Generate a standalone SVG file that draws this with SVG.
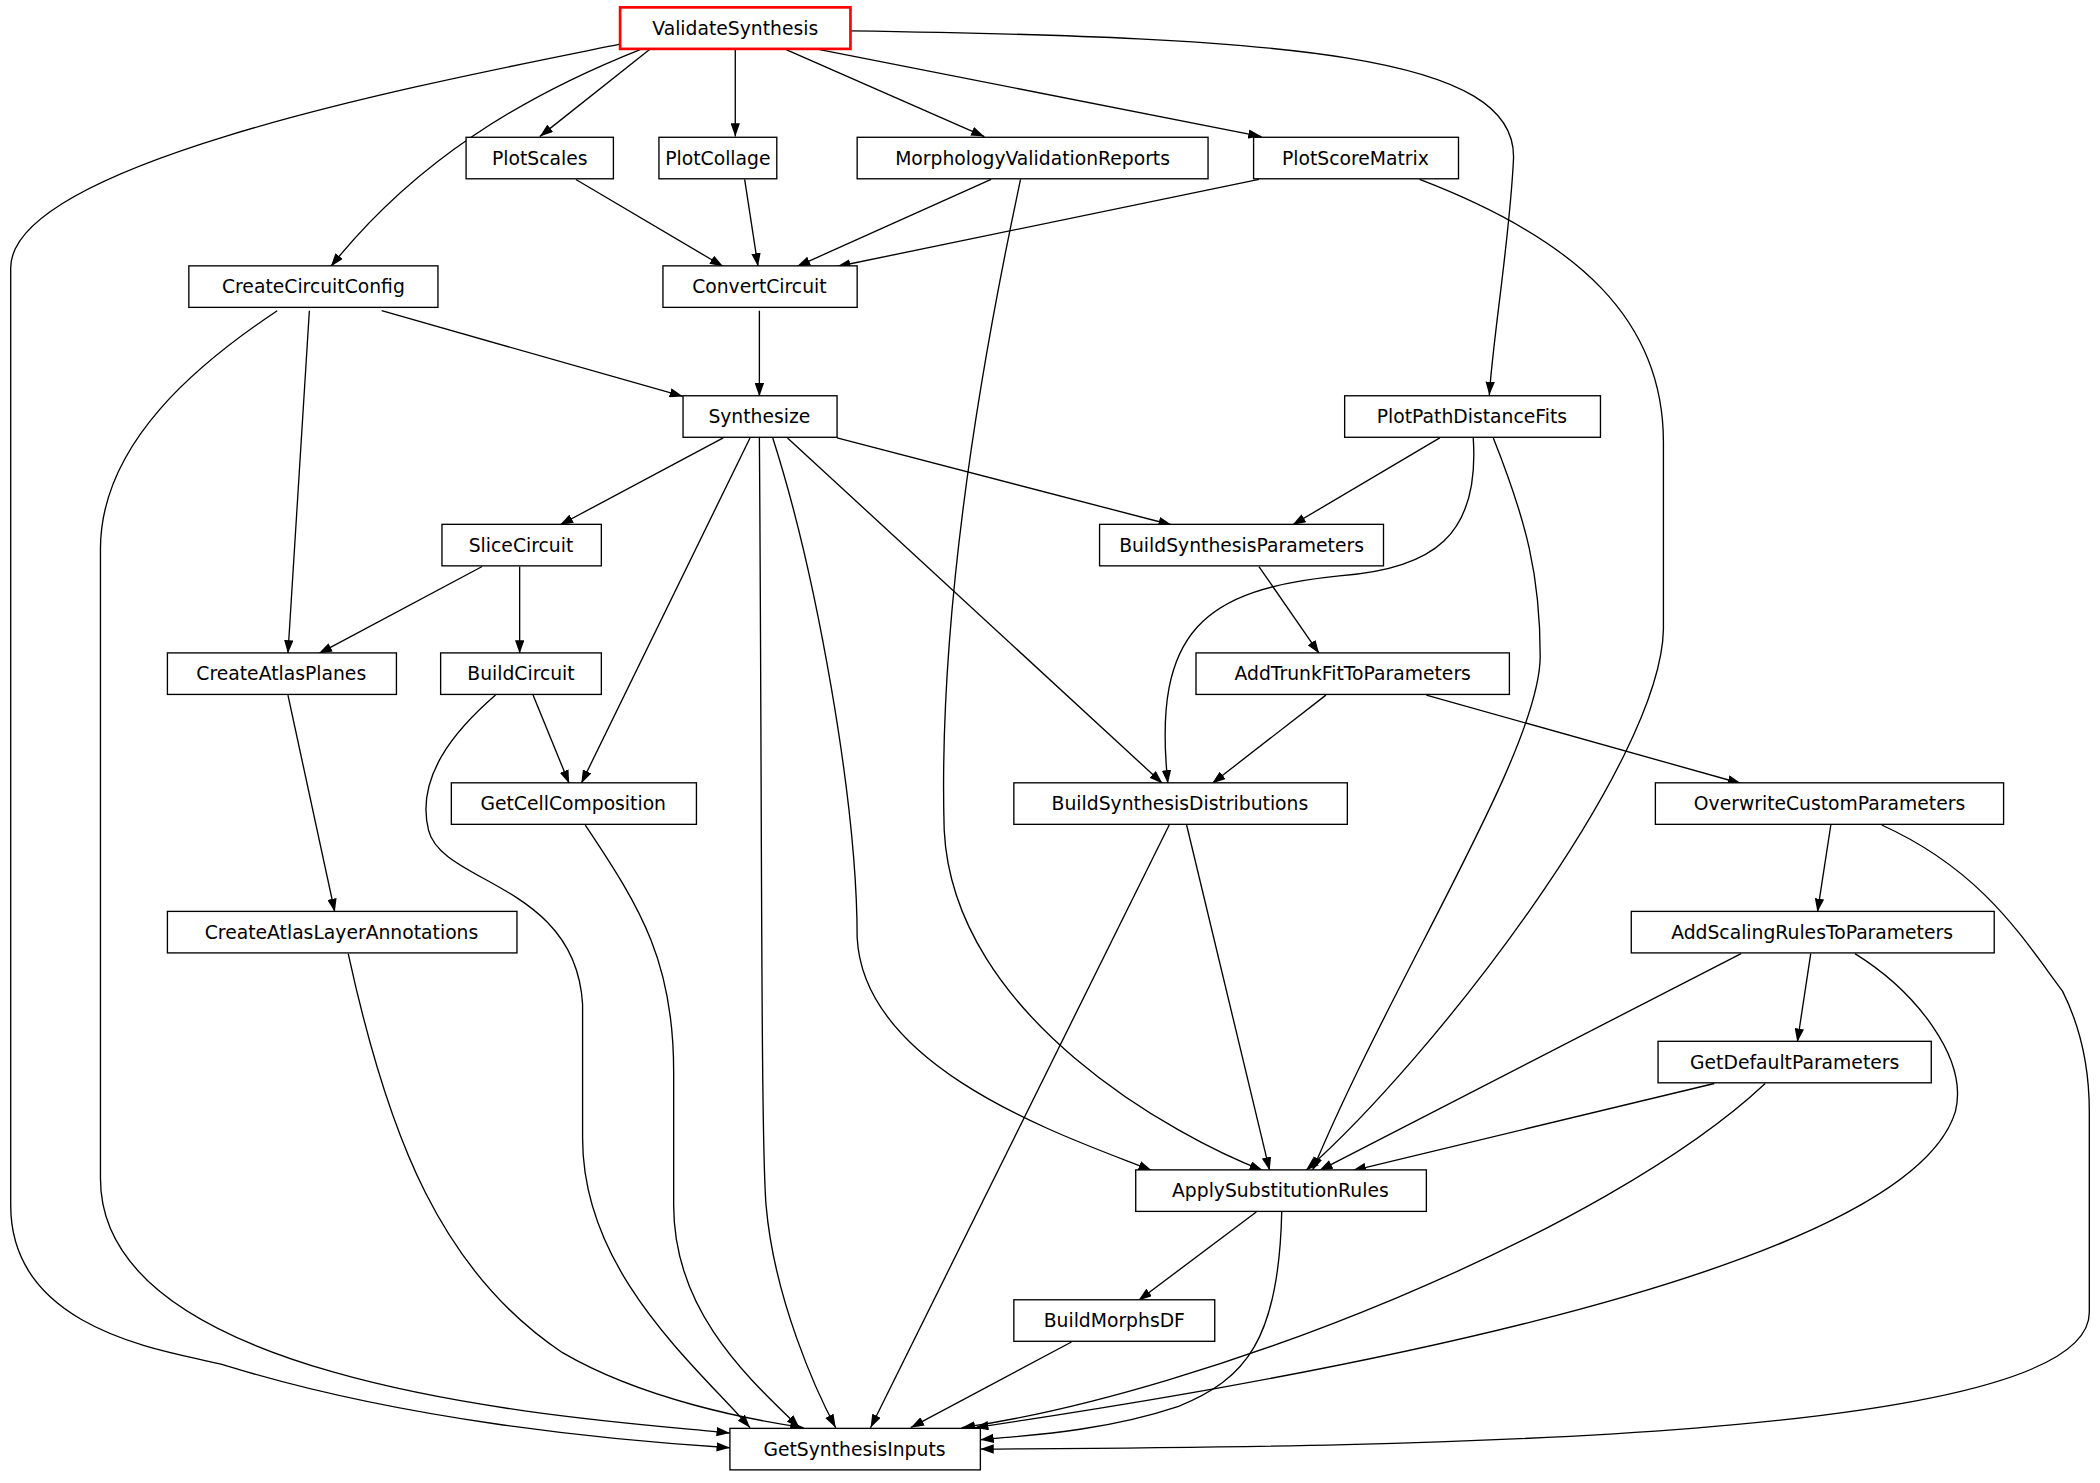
<svg xmlns="http://www.w3.org/2000/svg" width="2100" height="1483" viewBox="0 0 2100 1483">
<style>
.n rect{fill:#fff;stroke:#000;stroke-width:1}
.n text{font-family:"DejaVu Sans",sans-serif;font-size:14px;text-anchor:middle}
#edges path{fill:none;stroke:#000;stroke-width:1;marker-end:url(#a)}
</style>
<defs><marker id="a" viewBox="0 0 10 7" refX="10" refY="3.5" markerWidth="10" markerHeight="7" orient="auto" markerUnits="userSpaceOnUse"><path d="M0,0L10,3.5L0,7z" fill="#000"/></marker></defs>
<rect width="2100" height="1483" fill="#fff"/>
<g transform="scale(1.3393)">
<g id="edges">
<path d="M485,37L403,102"/>
<path d="M549,37L549,102"/>
<path d="M587,37L735,102"/>
<path d="M612,37L942,102"/>
<path d="M478,37C390,72 310,120 247,199"/>
<path d="M463,33C330,60 8,120 8,200L8,900C8,1000 140,1010 170,1020C300,1060 450,1075 545,1081"/>
<path d="M635,23C960,28 1135,40 1130,120C1127,180 1115,250 1112,295"/>
<path d="M430,134L540,199"/>
<path d="M556,134L566,199"/>
<path d="M740,134L595,199"/>
<path d="M940,134L625,199"/>
<path d="M762,134C735,260 700,450 705,620C712,760 880,850 943,874"/>
<path d="M1060,134C1180,180 1242,240 1242,330L1242,470C1240,570 1070,790 975,874"/>
<path d="M285,232L510,296"/>
<path d="M231,232L215,488"/>
<path d="M207,232C150,270 75,330 75,410L75,880C75,1040 450,1060 545,1070"/>
<path d="M567,232L567,296"/>
<path d="M540,327L418,392"/>
<path d="M560,327L434,585"/>
<path d="M567,327C569,600 568,850 572,900C578,970 610,1040 624,1066"/>
<path d="M577,327C610,430 640,600 640,700C645,800 800,850 860,874"/>
<path d="M588,327L868,585"/>
<path d="M625,327L875,392"/>
<path d="M1075,327L965,392"/>
<path d="M1100,327C1105,400 1070,425 1000,430C900,440 860,470 872,585"/>
<path d="M1115,327C1140,390 1150,430 1150,490C1150,560 1040,730 980,874"/>
<path d="M360,423L238,488"/>
<path d="M388,423L388,488"/>
<path d="M940,423L985,488"/>
<path d="M215,519L250,681"/>
<path d="M398,519L425,585"/>
<path d="M370,519C340,545 310,580 320,620C330,660 430,660 435,750L435,850C435,950 520,1020 560,1066"/>
<path d="M990,519L905,585"/>
<path d="M1065,519L1300,585"/>
<path d="M437,616C480,680 503,720 503,800L503,900C503,980 560,1030 597,1066"/>
<path d="M873,616L650,1066"/>
<path d="M886,616L948,874"/>
<path d="M1367,616L1357,681"/>
<path d="M1405,616C1480,650 1510,700 1540,740C1555,770 1560,800 1560,830L1560,980C1560,1080 1000,1080 732,1082"/>
<path d="M1300,712L985,874"/>
<path d="M1352,712L1342,778"/>
<path d="M1385,712C1430,740 1470,790 1460,830C1420,960 900,1040 728,1066"/>
<path d="M1280,809L1010,874"/>
<path d="M1318,809C1200,920 900,1040 718,1066"/>
<path d="M938,905L850,971"/>
<path d="M957,905C955,1000 930,1030 880,1050C820,1070 760,1072 732,1075"/>
<path d="M800,1002L680,1066"/>
<path d="M260,712C290,850 330,950 420,1010C480,1045 560,1060 600,1066"/>
</g>
<g id="ValidateSynthesis" class="n"><rect x="463" y="5.5" width="172" height="31" style="stroke:#f00;stroke-width:2"/><text x="549" y="26">ValidateSynthesis</text></g>
<g id="PlotScales" class="n"><rect x="348" y="102.5" width="110" height="31"/><text x="403" y="123">PlotScales</text></g>
<g id="PlotCollage" class="n"><rect x="492" y="102.5" width="88" height="31"/><text x="536" y="123">PlotCollage</text></g>
<g id="MorphologyValidationReports" class="n"><rect x="640" y="102.5" width="262" height="31"/><text x="771" y="123">MorphologyValidationReports</text></g>
<g id="PlotScoreMatrix" class="n"><rect x="936" y="102.5" width="153" height="31"/><text x="1012" y="123">PlotScoreMatrix</text></g>
<g id="CreateCircuitConfig" class="n"><rect x="141" y="198.5" width="186" height="31"/><text x="234" y="219">CreateCircuitConfig</text></g>
<g id="ConvertCircuit" class="n"><rect x="495" y="198.5" width="145" height="31"/><text x="567" y="219">ConvertCircuit</text></g>
<g id="Synthesize" class="n"><rect x="510" y="295.5" width="115" height="31"/><text x="567" y="316">Synthesize</text></g>
<g id="PlotPathDistanceFits" class="n"><rect x="1004" y="295.5" width="191" height="31"/><text x="1099" y="316">PlotPathDistanceFits</text></g>
<g id="SliceCircuit" class="n"><rect x="330" y="391.5" width="119" height="31"/><text x="389" y="412">SliceCircuit</text></g>
<g id="BuildSynthesisParameters" class="n"><rect x="821" y="391.5" width="212" height="31"/><text x="927" y="412">BuildSynthesisParameters</text></g>
<g id="CreateAtlasPlanes" class="n"><rect x="125" y="487.5" width="171" height="31"/><text x="210" y="508">CreateAtlasPlanes</text></g>
<g id="BuildCircuit" class="n"><rect x="329" y="487.5" width="120" height="31"/><text x="389" y="508">BuildCircuit</text></g>
<g id="AddTrunkFitToParameters" class="n"><rect x="893" y="487.5" width="234" height="31"/><text x="1010" y="508">AddTrunkFitToParameters</text></g>
<g id="GetCellComposition" class="n"><rect x="337" y="584.5" width="183" height="31"/><text x="428" y="605">GetCellComposition</text></g>
<g id="BuildSynthesisDistributions" class="n"><rect x="757" y="584.5" width="249" height="31"/><text x="881" y="605">BuildSynthesisDistributions</text></g>
<g id="OverwriteCustomParameters" class="n"><rect x="1236" y="584.5" width="260" height="31"/><text x="1366" y="605">OverwriteCustomParameters</text></g>
<g id="CreateAtlasLayerAnnotations" class="n"><rect x="125" y="680.5" width="261" height="31"/><text x="255" y="701">CreateAtlasLayerAnnotations</text></g>
<g id="AddScalingRulesToParameters" class="n"><rect x="1218" y="680.5" width="271" height="31"/><text x="1353" y="701">AddScalingRulesToParameters</text></g>
<g id="GetDefaultParameters" class="n"><rect x="1238" y="777.5" width="204" height="31"/><text x="1340" y="798">GetDefaultParameters</text></g>
<g id="ApplySubstitutionRules" class="n"><rect x="848" y="873.5" width="217" height="31"/><text x="956" y="894">ApplySubstitutionRules</text></g>
<g id="BuildMorphsDF" class="n"><rect x="757" y="970.5" width="150" height="31"/><text x="832" y="991">BuildMorphsDF</text></g>
<g id="GetSynthesisInputs" class="n"><rect x="545" y="1066.5" width="187" height="31"/><text x="638" y="1087">GetSynthesisInputs</text></g>
</g>
</svg>
